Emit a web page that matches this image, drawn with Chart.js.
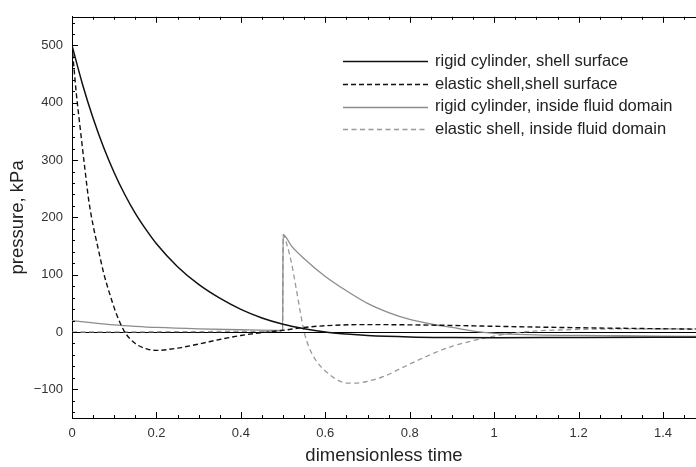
<!DOCTYPE html>
<html>
<head>
<meta charset="utf-8">
<script src="https://cdn.jsdelivr.net/npm/chart.js@4.4.1/dist/chart.umd.min.js"></script>
<style>
  html, body { margin: 0; padding: 0; background: #fff; }
</style>
</head>
<body>
<canvas id="pressure-chart" width="696" height="467"></canvas>
<script>
// tick labels
const xTickValues = [0, 0.2, 0.4, 0.6, 0.8, 1, 1.2, 1.4];
const yTickValues = [-100, 0, 100, 200, 300, 400, 500];

// rigid cylinder, shell surface
const rigidSurfaceT = [0, 0.025, 0.05, 0.075, 0.1, 0.125, 0.15, 0.175, 0.2, 0.25, 0.3, 0.35, 0.4, 0.45, 0.5, 0.55, 0.6, 0.65, 0.7, 0.8, 0.9, 1.0, 1.2, 1.48];
const rigidSurfaceP = [500, 432, 373, 322, 278, 240, 207, 179, 154, 114, 83, 59, 39.5, 24.5, 13.5, 5.7, 0, -3.5, -6, -8.5, -9.5, -10, -9.5, -9];

// elastic shell, shell surface
const elasticSurfaceT = [0, 0.01, 0.02, 0.03, 0.04, 0.05, 0.06, 0.075, 0.09, 0.105, 0.125, 0.15, 0.175, 0.2, 0.25, 0.3, 0.35, 0.4, 0.45, 0.5, 0.55, 0.6, 0.7, 0.8, 0.9, 1.0, 1.2, 1.48];
const elasticSurfaceP = [500, 418, 352, 288, 228, 186, 152, 103, 65, 32, 0, -20, -29, -32, -28, -21, -13, -6, -1, 3, 8, 11, 13, 12.5, 11.5, 10, 7.5, 5];

// rigid cylinder, inside fluid domain
const rigidFluidT = [0, 0.05, 0.1, 0.15, 0.2, 0.3, 0.4, 0.499, 0.5, 0.52, 0.55, 0.6, 0.65, 0.7, 0.75, 0.8, 0.85, 0.9, 0.95, 1.0, 1.1, 1.2, 1.3, 1.48];
const rigidFluidP = [20, 16, 12.5, 10, 8, 5.5, 4, 3, 170, 150, 128, 97, 72, 50, 34, 22, 14, 8, 1.5, -2.5, -5, -6, -6.5, -7.5];

// elastic shell, inside fluid domain
const elasticFluidT = [0, 0.2, 0.4, 0.499, 0.5, 0.51, 0.52, 0.53, 0.54, 0.55, 0.56, 0.58, 0.6, 0.625, 0.65, 0.675, 0.7, 0.74, 0.78, 0.82, 0.86, 0.9, 0.95, 1.0, 1.05, 1.1, 1.15, 1.2, 1.3, 1.48];
const elasticFluidP = [0, 0.5, 1, 2, 170, 150, 120, 80, 38, 0, -24, -52, -68, -82, -89, -89, -86, -77, -63, -49, -36, -25, -15, -7, -1.5, 2, 3.5, 4.5, 5.5, 5.5];

const toPoints = (t, p) => t.map((v, i) => ({ x: v, y: p[i] }));

Chart.defaults.font.family = '"Liberation Sans", Arial, sans-serif';

const data = {
  datasets: [
    {
      label: 'rigid cylinder, shell surface',
      data: toPoints(rigidSurfaceT, rigidSurfaceP),
      borderColor: '#111',
      borderWidth: 1.5,
      borderDash: [],
    },
    {
      label: 'elastic shell,shell surface',
      data: toPoints(elasticSurfaceT, elasticSurfaceP),
      borderColor: '#111',
      borderWidth: 1.4,
      borderDash: [5, 3],
    },
    {
      label: 'rigid cylinder, inside fluid domain',
      data: toPoints(rigidFluidT, rigidFluidP),
      borderColor: '#8c8c8c',
      borderWidth: 1.3,
      borderDash: [],
    },
    {
      label: 'elastic shell, inside fluid domain',
      data: toPoints(elasticFluidT, elasticFluidP),
      borderColor: '#999',
      borderWidth: 1.3,
      borderDash: [5, 3.5],
    },
  ],
};

// inward ticks, top frame, zero line, legend
const frameTicks = {
  id: 'frameTicks',
  beforeDatasetsDraw(chart) {
    const { ctx, chartArea: a, scales: { y } } = chart;
    const y0 = Math.round(y.getPixelForValue(0)) + 0.5;
    ctx.save();
    ctx.strokeStyle = '#000';
    ctx.lineWidth = 1;
    ctx.beginPath();
    ctx.moveTo(a.left, y0);
    ctx.lineTo(a.right, y0);
    ctx.stroke();
    ctx.restore();
  },
  afterDraw(chart) {
    const { ctx, chartArea: a, scales: { x, y } } = chart;
    ctx.save();
    ctx.strokeStyle = '#000';
    ctx.lineWidth = 1;
    ctx.beginPath();
    // top border
    ctx.moveTo(a.left, Math.round(a.top) + 0.5);
    ctx.lineTo(a.right, Math.round(a.top) + 0.5);
    // x ticks, every 0.05
    for (let i = 0; i * 0.05 <= x.max; i++) {
      const px = Math.round(x.getPixelForValue(i * 0.05)) + 0.5;
      const len = i % 4 === 0 ? 6 : 3;
      ctx.moveTo(px, a.bottom);
      ctx.lineTo(px, a.bottom - len);
      ctx.moveTo(px, a.top);
      ctx.lineTo(px, a.top + len);
    }
    // y ticks, every 20
    for (let i = -7; i <= 27; i++) {
      const py = Math.round(y.getPixelForValue(i * 20)) + 0.5;
      const len = i % 5 === 0 ? 6 : 3;
      ctx.moveTo(a.left, py);
      ctx.lineTo(a.left + len, py);
    }
    ctx.stroke();

    // legend
    const rows = [61, 84, 106.5, 129];
    ctx.font = '16.5px "Liberation Sans", Arial, sans-serif';
    ctx.textBaseline = 'middle';
    ctx.textAlign = 'left';
    chart.data.datasets.forEach((ds, i) => {
      const ly = Math.round(rows[i]) + 0.5;
      ctx.strokeStyle = ds.borderColor;
      ctx.lineWidth = ds.borderWidth;
      ctx.setLineDash(ds.borderDash);
      ctx.beginPath();
      ctx.moveTo(343, ly);
      ctx.lineTo(428, ly);
      ctx.stroke();
      ctx.setLineDash([]);
      ctx.fillStyle = '#222';
      ctx.fillText(ds.label, 435, rows[i]);
    });
    ctx.restore();
  },
};

const config = {
  type: 'line',
  data: data,
  options: {
    responsive: false,
    animation: false,
    devicePixelRatio: 1,
    layout: { padding: { top: 7, right: 0, left: 0, bottom: 0 } },
    elements: {
      point: { radius: 0 },
      line: { cubicInterpolationMode: 'monotone', fill: false },
    },
    plugins: {
      legend: { display: false },
      tooltip: { enabled: false },
    },
    scales: {
      x: {
        type: 'linear',
        min: 0,
        max: 1.478,
        afterBuildTicks: s => { s.ticks = xTickValues.map(v => ({ value: v })); },
        afterFit: s => { s.height = 49; },
        ticks: {
          color: '#333',
          font: { size: 13 },
          padding: 8,
          maxRotation: 0,
          callback: v => String(Math.round(v * 10) / 10),
        },
        grid: { display: false, drawTicks: false },
        border: { display: true, color: '#000', width: 1 },
        title: {
          display: true,
          text: 'dimensionless time',
          color: '#222',
          font: { size: 18.5 },
          padding: { top: 0, bottom: 0 },
        },
      },
      y: {
        type: 'linear',
        min: -150,
        max: 550,
        afterBuildTicks: s => { s.ticks = yTickValues.map(v => ({ value: v })); },
        afterFit: s => { s.width = 72; },
        ticks: {
          color: '#333',
          font: { size: 13 },
          padding: 9,
          callback: v => (v < 0 ? '\u2212' + Math.abs(v) : String(v)),
        },
        grid: { display: false, drawTicks: false },
        border: { display: true, color: '#000', width: 1 },
        title: {
          display: true,
          text: 'pressure, kPa',
          color: '#222',
          font: { size: 18.5 },
          padding: { top: 7, bottom: 0 },
        },
      },
    },
  },
  plugins: [frameTicks],
};

let myChart = new Chart(document.getElementById('pressure-chart'), config);
</script>
</body>
</html>
